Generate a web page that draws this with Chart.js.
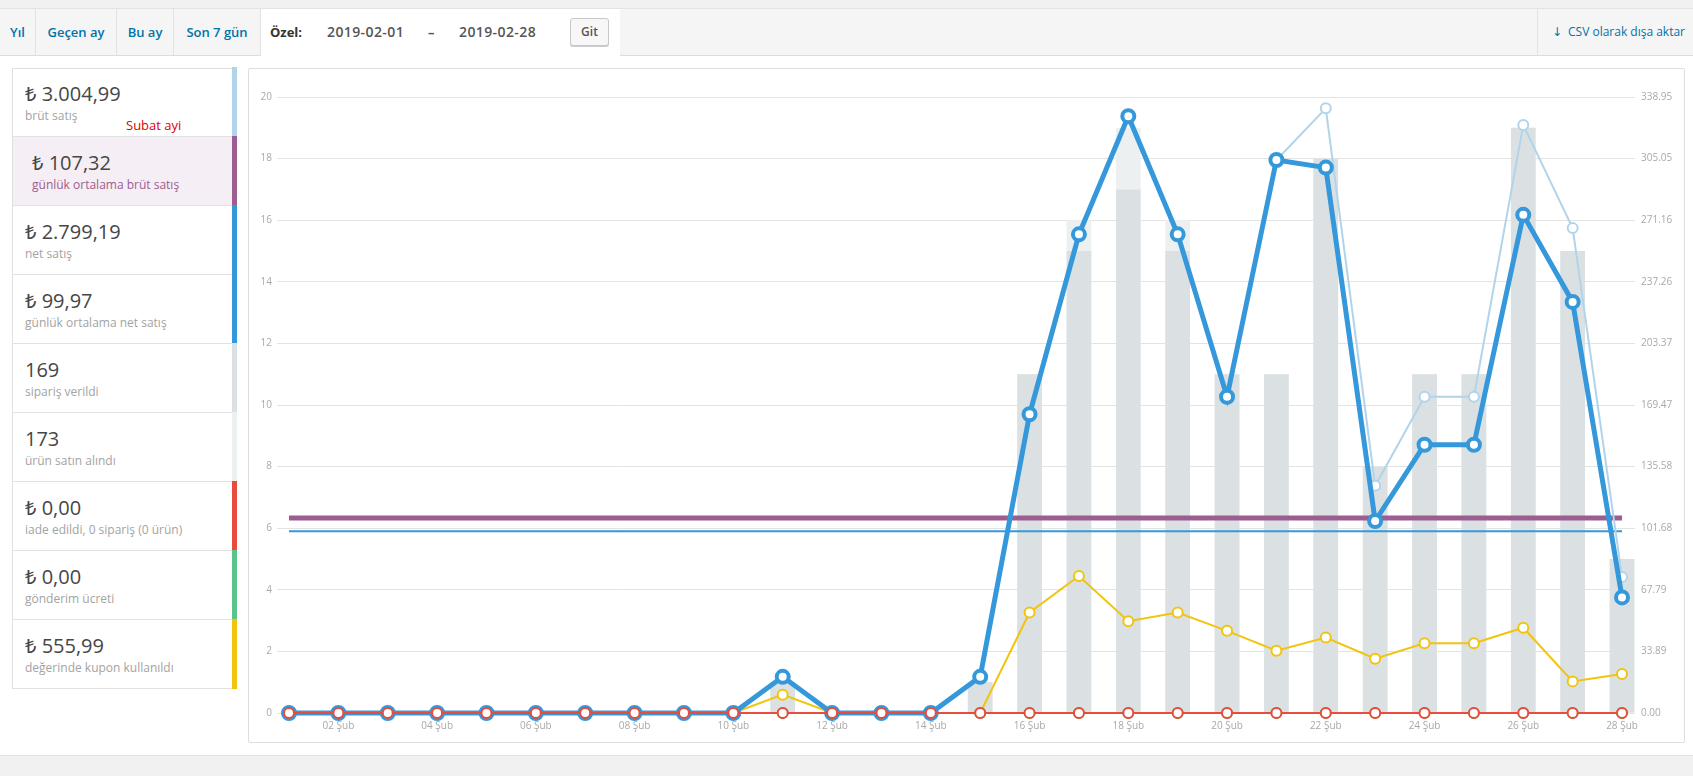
<!DOCTYPE html>
<html><head><meta charset="utf-8">
<script src="https://cdn.jsdelivr.net/npm/chart.js@4.4.0/dist/chart.umd.min.js"></script>
<style>
*{box-sizing:border-box}
html,body{margin:0;padding:0}
body{width:1693px;height:776px;background:#f1f1f1;font-family:"Open Sans","Noto Sans","DejaVu Sans",sans-serif;position:relative;overflow:hidden}
#tabs{position:absolute;left:0;top:8px;width:1693px;height:48px;background:#f5f5f5;border-top:1px solid #e3e3e3;border-bottom:1px solid #dcdcdc}
.tab{position:absolute;top:0;height:46px;line-height:46px;color:#0073aa;font-weight:600;font-size:13px;text-align:center;border-right:1px solid #e2e2e2;white-space:nowrap}
#custom{position:absolute;left:261px;top:9px;width:359px;height:47px;background:#fff;z-index:2}
.ctext{position:absolute;top:0;line-height:46px;font-size:13px;white-space:nowrap}
.date{font-size:14px;font-weight:600;color:#555;letter-spacing:0.4px}
#git{position:absolute;left:309px;top:9px;width:39px;height:28px;border:1px solid #c8c8c8;border-radius:3px;background:#f7f7f7;box-shadow:0 1px 0 #ccc;font-size:12px;font-weight:600;color:#555;text-align:center;line-height:26px}
#csv{position:absolute;left:1537px;top:0;width:156px;height:46px;border-left:1px solid #e2e2e2;color:#0073aa;font-size:12px;line-height:46px;white-space:nowrap}
#main{position:absolute;left:0;top:56px;width:1693px;height:700px;background:#fff;border-bottom:1px solid #e2e2e2}
#legend{position:absolute;left:12px;top:68px;width:224px;height:621px;border:1px solid #dfdfdf;border-right:none;background:#fff}
.li{position:absolute;left:0;width:224px;height:69px;border-bottom:1px solid #e2e2e2}
.li .bar{position:absolute;right:0;top:-1px;width:5px;height:70px}
.li .val{position:absolute;left:12px;top:13px;line-height:26px;font-size:20px;color:#464646;white-space:nowrap}
.li .lab{position:absolute;left:12px;top:40px;line-height:16px;font-size:12px;color:#a3a3a3;white-space:nowrap}
.li.hl{background:#f6eef5}
.li.hl .val,.li.hl .lab{left:19px}
.li.hl .lab{color:#9c5d90}
#note{position:absolute;left:126px;top:116px;font-size:13px;line-height:18px;color:#e00000;white-space:nowrap;z-index:3}
#chartbox{position:absolute;left:248px;top:68px;width:1437px;height:675px;border:1px solid #dedede;border-radius:2px;background:#fff}
#c{position:absolute;left:0;top:0}
</style></head>
<body>
<div id="tabs">
  <div class="tab" style="left:0;width:36px">Yıl</div>
  <div class="tab" style="left:36px;width:81px">Geçen ay</div>
  <div class="tab" style="left:117px;width:57px">Bu ay</div>
  <div class="tab" style="left:174px;width:87px">Son 7 gün</div>
  <div id="csv"><span style="position:absolute;left:14px">↓</span><span style="position:absolute;left:30px">CSV olarak dışa aktar</span></div>
</div>
<div id="custom">
  <div class="ctext" style="left:9px;font-weight:700;color:#333">Özel:</div>
  <div class="ctext date" style="left:66px">2019-02-01</div>
  <div class="ctext" style="left:167px;font-weight:700;color:#555">–</div>
  <div class="ctext date" style="left:198px">2019-02-28</div>
  <div id="git">Git</div>
</div>
<div id="main"></div>
<div id="legend"></div>
<div id="note">Subat ayi</div>
<div id="chartbox"><canvas id="c" width="1435" height="673" style="width:1435px;height:673px"></canvas></div>
<script>
// ---- data ----
const categories = ['01 Şub','02 Şub','03 Şub','04 Şub','05 Şub','06 Şub','07 Şub','08 Şub','09 Şub','10 Şub','11 Şub','12 Şub','13 Şub','14 Şub','15 Şub','16 Şub','17 Şub','18 Şub','19 Şub','20 Şub','21 Şub','22 Şub','23 Şub','24 Şub','25 Şub','26 Şub','27 Şub','28 Şub'];
const itemCounts  = [0,0,0,0,0,0,0,0,0,0,1,0,0,0,1,11,16,19,16,11,11,18,8,11,11,19,15,5];
const orderCounts = [0,0,0,0,0,0,0,0,0,0,1,0,0,0,1,11,15,17,15,11,11,18,8,11,11,19,15,5];
const grossSales  = [0,0,0,0,0,0,0,0,0,0,19.9,0,0,0,19.9,164.4,263.4,328.4,263.4,174.0,304.3,332.7,125.0,174.0,174.0,323.6,266.8,74.9];
const netSales    = [0,0,0,0,0,0,0,0,0,0,19.9,0,0,0,19.9,164.4,263.4,328.4,263.4,174.0,304.3,300.1,105.6,147.6,147.6,274.1,226.2,63.6];
const couponAmounts   = [0,0,0,0,0,0,0,0,0,0,10.1,0,0,0,0,55.3,75.4,50.5,55.3,45.2,34.3,41.5,29.9,38.4,38.4,46.9,17.4,21.5];
const shippingAmounts = [0,0,0,0,0,0,0,0,0,0,0,0,0,0,0,0,0,0,0,0,0,0,0,0,0,0,0,0];
const refundAmounts   = [0,0,0,0,0,0,0,0,0,0,0,0,0,0,0,0,0,0,0,0,0,0,0,0,0,0,0,0];
const avgGross = 107.32;
const avgNet = 99.97;
const xTickLabels = ['02 Şub','04 Şub','06 Şub','08 Şub','10 Şub','12 Şub','14 Şub','16 Şub','18 Şub','20 Şub','22 Şub','24 Şub','26 Şub','28 Şub'];
const leftTickLabels = ['0','2','4','6','8','10','12','14','16','18','20'];
const rightTickLabels = ['0.00','33.89','67.79','101.68','135.58','169.47','203.37','237.26','271.16','305.05','338.95'];
const rightMax = 338.95;
const legendItems = [
  ['₺ 3.004,99','brüt satış','#b1d4ea',false],
  ['₺ 107,32','günlük ortalama brüt satış','#9c5d90',true],
  ['₺ 2.799,19','net satış','#3498db',false],
  ['₺ 99,97','günlük ortalama net satış','#3498db',false],
  ['169','sipariş verildi','#dbe1e3',false],
  ['173','ürün satın alındı','#ecf0f1',false],
  ['₺ 0,00','iade edildi, 0 sipariş (0 ürün)','#e74c3c',false],
  ['₺ 0,00','gönderim ücreti','#5cc488',false],
  ['₺ 555,99','değerinde kupon kullanıldı','#f1c40f',false]
];

// ---- legend ----
const lg = document.getElementById('legend');
legendItems.forEach((it,i)=>{
  const d=document.createElement('div');
  d.className='li'+(it[3]?' hl':'');
  d.style.top=(i*69-1)+'px';
  d.innerHTML='<div class="val">'+it[0]+'</div><div class="lab">'+it[1]+'</div><div class="bar" style="background:'+it[2]+'"></div>';
  lg.appendChild(d);
});

// ---- chart ----
const toXY = arr => arr.map((v,i)=>({x:i,y:v}));
const flat = v => [{x:0,y:v},{x:categories.length-1,y:v}];
const lineDs = (data,color,bw,pr,pbw,order)=>({type:'line',data,yAxisID:'y2',borderColor:color,borderWidth:bw,
  pointRadius:pr,pointHoverRadius:pr,pointBorderWidth:pbw,pointBackgroundColor:'#fff',pointBorderColor:color,
  tension:0,fill:false,order,clip:false});
const barDs = (data,color,order)=>({type:'bar',data:toXY(data),yAxisID:'y',backgroundColor:color,borderWidth:0,
  grouped:false,categoryPercentage:1,barPercentage:0.5,order});
const tickFont = {family:'"Open Sans","Noto Sans",sans-serif',size:10};
const tickColor = '#a9a9a9';
const nX = categories.length;

new Chart(document.getElementById('c'),{
  data:{datasets:[
    lineDs(toXY(refundAmounts),'#e74c3c',2,5,2,0),
    lineDs(toXY(netSales),'#3498db',5,6,4,1),
    lineDs(toXY(grossSales),'#b1d4ea',2,5,2,2),
    lineDs(toXY(shippingAmounts),'#5cc488',2,5,2,3),
    lineDs(toXY(couponAmounts),'#f1c40f',2,5,2,4),
    lineDs(flat(avgNet),'#3498db',2,0,0,5),
    lineDs(flat(avgGross),'#9c5d90',5,0,0,6),
    barDs(orderCounts,'#dbe1e3',7),
    barDs(itemCounts,'#ecf0f1',8)
  ]},
  options:{
    responsive:false,animation:false,devicePixelRatio:1,
    layout:{padding:{top:28,left:0,right:0,bottom:0}},
    plugins:{legend:{display:false},tooltip:{enabled:false}},
    events:[],
    scales:{
      x:{type:'linear',min:-0.243,max:(nX-1)+0.263,offset:false,
        grid:{display:false,drawTicks:false,offset:false},border:{display:false},
        afterBuildTicks:s=>{s.ticks=xTickLabels.map(l=>({value:categories.indexOf(l)}));},
        afterFit:s=>{s.height=29;},
        ticks:{font:tickFont,color:tickColor,padding:7,autoSkip:false,maxRotation:0,
          callback:(v,i)=>xTickLabels[i]}},
      y:{position:'left',min:0,max:20,
        grid:{color:'#e3e3e3',drawTicks:false},border:{display:false},
        afterBuildTicks:s=>{s.ticks=leftTickLabels.map(l=>({value:parseFloat(l)}));},
        afterFit:s=>{s.width=28;},
        ticks:{font:tickFont,color:tickColor,padding:5,callback:(v,i)=>leftTickLabels[i]}},
      y2:{position:'right',min:0,max:rightMax,
        grid:{display:false,drawTicks:false},border:{display:false},
        afterBuildTicks:s=>{s.ticks=rightTickLabels.map((l,i)=>({value:i*rightMax/(rightTickLabels.length-1)}));},
        afterFit:s=>{s.width=49;},
        ticks:{font:tickFont,color:tickColor,padding:6,callback:(v,i)=>rightTickLabels[i]}}
    }
  }
});
</script>
</body></html>
